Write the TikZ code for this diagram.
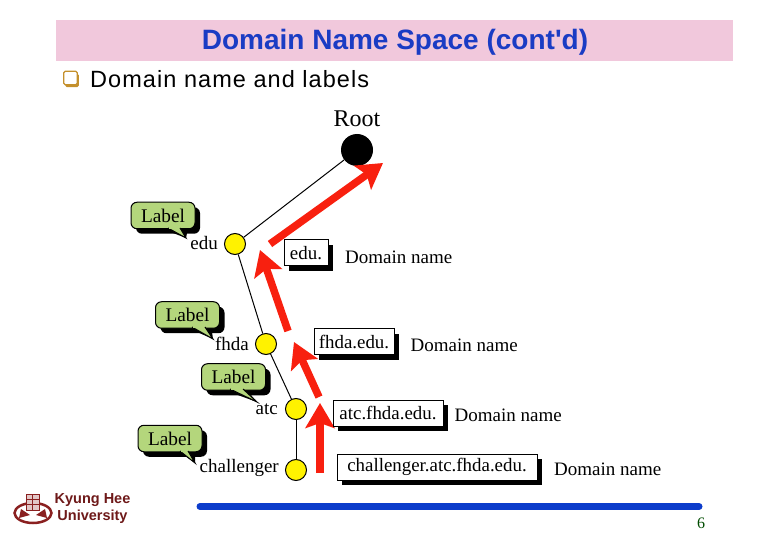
\documentclass[tikz,border=0pt]{standalone}
\usepackage{fontspec}
\setmainfont{Liberation Serif}
\newfontfamily\slidefont{Liberation Sans}
\usetikzlibrary{arrows.meta,shadows,shapes.geometric}
\definecolor{titlepink}{HTML}{F1C8DC}
\definecolor{titleblue}{HTML}{1A3CC4}
\definecolor{labelgreen}{HTML}{B4D67C}
\definecolor{arrowred}{HTML}{F8200F}
\definecolor{barblue}{HTML}{0C3CCB}
\definecolor{logored}{HTML}{8A2020}
\definecolor{bulletgold}{HTML}{C4902C}
\definecolor{nodeyellow}{HTML}{FFF200}
\tikzset{
  darkshadow/.style = {drop shadow={shadow xshift=5pt, shadow yshift=-5pt, fill=black, opacity=1}},
  dnsnode/.style = {circle, draw, line width=1pt, fill=nodeyellow, minimum size=21pt, inner sep=0pt},
  namebox/.style = {draw, line width=1pt, fill=white, darkshadow, minimum height=26pt, inner sep=0pt, font=\fontsize{18.9}{19}\selectfont},
  labelbox/.style = {draw, line width=1pt, fill=labelgreen, rounded corners=6pt, darkshadow, minimum width=64pt, minimum height=26.5pt, inner sep=0pt, font=\fontsize{19.3}{19}\selectfont},
  treelabel/.style = {font=\fontsize{19}{19}\selectfont, inner sep=0pt},
  domaintext/.style = {font=\fontsize{19}{19}\selectfont, inner sep=0pt},
  redarrow/.style = {draw=arrowred, line width=7.5pt, -{Stealth[length=25pt, width=29pt, inset=5pt]}}
}
\begin{document}
\begin{tikzpicture}[x=1pt, y=-1pt]
  \useasboundingbox (0,0) rectangle (780,540);
  % heading
  \fill[titlepink] (56,20) rectangle (733,61);
  \node[text=titleblue, font=\slidefont\bfseries\fontsize{28}{28}\selectfont, inner sep=0pt] (title) at (395,42.5) {Domain Name Space (cont'd)};
  \node[draw=bulletgold, line width=1.4pt, fill=white, rounded corners=1.5pt, minimum size=13.5pt, inner sep=0pt,
        drop shadow={shadow xshift=1.5pt, shadow yshift=-2.5pt, fill=bulletgold, opacity=1}] (bullet) at (70.5,78) {};
  \node[anchor=west, font=\slidefont\fontsize{23.5}{23}\selectfont, inner sep=0pt] (sub) at (90,79) {\addfontfeatures{LetterSpace=4.5}Domain name and labels};

  % tree
  \node[circle, fill=black, minimum size=32pt, inner sep=0pt] (root) at (357,150) {};
  \node[font=\fontsize{24}{24}\selectfont, inner sep=0pt] (roottext) at (357,119) {Root};
  \node[dnsnode] (edu) at (235,244) {};
  \node[dnsnode] (fhda) at (266,344) {};
  \node[dnsnode] (atc) at (296,409) {};
  \node[dnsnode] (chal) at (296,470) {};
  \draw[line width=1pt] (root) -- (edu);
  \draw[line width=1pt] (edu) -- (fhda);
  \draw[line width=1pt] (fhda) -- (atc);
  \draw[line width=1pt] (atc) -- (chal);
  \node[treelabel, anchor=east] (edutext) at (218,243) {edu};
  \node[treelabel, anchor=east] (fhdatext) at (249,344) {fhda};
  \node[treelabel, anchor=east] (atctext) at (278,409) {atc};
  \node[treelabel, anchor=east] (chaltext) at (279,468) {challenger};

  % red arrows
  \coordinate (a0) at (270,244);
  \coordinate (a1) at (383,163);
  \coordinate (b0) at (288,331);
  \coordinate (b1) at (260,250);
  \coordinate (c0) at (319,397);
  \coordinate (c1) at (294,342);
  \coordinate (d0) at (320,473);
  \coordinate (d1) at (320,403);
  \draw[redarrow] (a0) -- (a1);
  \draw[redarrow] (b0) -- (b1);
  \draw[redarrow] (c0) -- (c1);
  \draw[redarrow] (d0) -- (d1);

  % callouts
  \foreach \n/\x/\y/\ax/\bx/\by/\tx/\ty in {
      la/163/215.5/168/180/228/186/238,
      lb/187.5/315/192/205/327/213/339,
      lc/233.5/377/230/243/389/257/402,
      ld/170/438.5/180/188/451/195/463} {
    \fill[black] (\ax+5,\by+5) -- (\tx,\ty) -- (\bx+7,\by+5) -- cycle;
    \node[labelbox] (\n) at (\x,\y) {Label};
    \filldraw[fill=labelgreen, line width=1pt] (\ax,\by) -- (\tx,\ty) -- (\bx,\by);
    \fill[labelgreen] (\ax+1,\by-1.5) rectangle (\bx-1,\by+.6);
  }

  % name boxes
  \node[namebox, minimum width=44pt] (eduname) at (306,253) {edu.};
  \node[namebox, minimum width=80pt] (fhdaname) at (354,342) {fhda.edu.};
  \node[namebox, minimum width=110pt] (atcname) at (388,413) {atc.fhda.edu.};
  \node[namebox, minimum width=200pt] (channame) at (437,467) {challenger.atc.fhda.edu.};
  \node[domaintext, anchor=west] (dn1) at (345,257) {Domain name};
  \node[domaintext, anchor=west] (dn2) at (410.5,345) {Domain name};
  \node[domaintext, anchor=west] (dn3) at (454.5,415) {Domain name};
  \node[domaintext, anchor=west] (dn4) at (554,469) {Domain name};

  % footer
  \coordinate (bar0) at (200,506.5);
  \coordinate (bar1) at (699,506.5);
  \draw[barblue, line width=7pt, line cap=round] (bar0) -- (bar1);
  \node[text=black!70!green, font=\fontsize{16}{16}\selectfont, inner sep=0pt] (page) at (701,523) {6};
  \node[align=center, text=logored!80!black, font=\slidefont\bfseries\fontsize{14.5}{17}\selectfont, inner sep=0pt] (univ) at (92.5,508.5) {Kyung Hee\\University};
  % logo
  \draw[logored, line width=2.5pt, fill=white] (33,513) ellipse (18.5pt and 10pt);
  \draw[logored, line width=1pt, fill=logored!25] (26,494) rectangle (39,510);
  \draw[logored, line width=1pt] (26,499) -- (39,499) (26,504) -- (39,504) (32.5,494) -- (32.5,510);
  \fill[logored] (21,509) -- (30,515) -- (19,518) -- cycle;
  \fill[logored] (45,509) -- (36,515) -- (47,518) -- cycle;
\end{tikzpicture}
\end{document}
